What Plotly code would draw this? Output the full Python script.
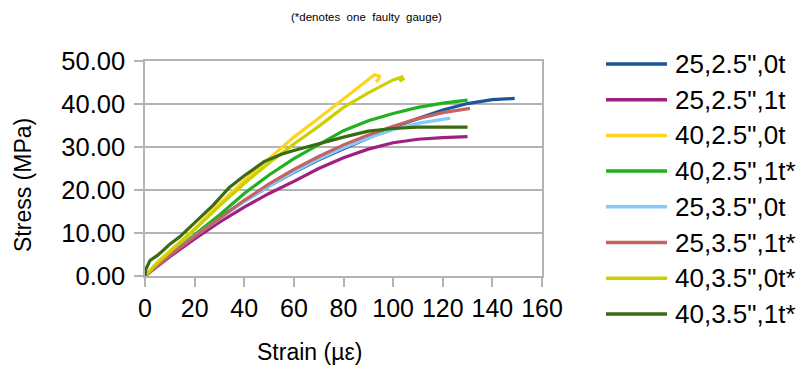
import plotly.graph_objects as go

names = ['25,2.5",0t', '25,2.5",1t', '40,2.5",0t', '40,2.5",1t*',
         '25,3.5",0t', '25,3.5",1t*', '40,3.5",0t*', '40,3.5",1t*']
colors = ["#1c5596", "#a0207f", "#ffd320", "#20b020",
          "#83caff", "#c46462", "#cdd000", "#3a6b12"]

x_25_25_0 = [0, 5, 10, 20, 30, 40, 50, 60, 70, 80, 90, 100, 110, 120, 130, 140, 149]
y_25_25_0 = [0, 2.6, 5.0, 9.3, 13.6, 17.4, 20.9, 24.1, 27.0, 29.6, 32.1, 34.6, 36.6, 38.6, 40.1, 41.0, 41.3]

x_25_25_1 = [0, 5, 10, 20, 30, 40, 50, 60, 70, 80, 90, 100, 110, 120, 130]
y_25_25_1 = [0, 2.3, 4.5, 8.6, 12.5, 16.0, 19.2, 22.0, 25.0, 27.5, 29.5, 31.0, 31.8, 32.2, 32.4]

x_40_25_0 = [0, 5, 10, 20, 30, 40, 50, 60, 70, 80, 88, 92.5, 94.5, 94, 93]
y_40_25_0 = [0, 3.2, 5.8, 11.0, 16.8, 22.2, 27.3, 32.3, 36.7, 41.2, 44.8, 46.8, 46.5, 45.6, 45.2]

x_40_25_1 = [0, 5, 10, 20, 30, 40, 50, 60, 70, 80, 90, 100, 110, 120, 130]
y_40_25_1 = [0, 2.6, 5.0, 9.6, 14.2, 19.2, 23.5, 27.3, 30.6, 33.8, 36.1, 37.8, 39.2, 40.2, 40.9]

x_25_35_0 = [0, 5, 10, 20, 30, 40, 50, 60, 70, 80, 90, 100, 110, 123]
y_25_35_0 = [0, 2.5, 4.9, 9.3, 13.4, 17.3, 20.9, 24.2, 27.2, 29.8, 32.1, 34.0, 35.5, 36.7]

x_25_35_1 = [0, 5, 10, 20, 30, 40, 50, 60, 70, 80, 90, 100, 110, 120, 131]
y_25_35_1 = [0, 2.5, 4.8, 9.2, 13.5, 17.6, 21.4, 24.8, 27.8, 30.5, 32.8, 34.8, 36.6, 38.0, 39.0]

x_40_35_0 = [0, 5, 10, 20, 30, 40, 50, 60, 70, 80, 90, 100, 103.5, 104, 102.5]
y_40_35_0 = [0, 3.0, 5.6, 10.8, 16.3, 21.5, 26.3, 30.7, 34.8, 39.2, 42.6, 45.6, 46.3, 45.8, 45.3]

x_40_35_1 = [0, 0.3, 2, 5, 7.4, 10, 14, 20, 27.5, 34, 40, 48, 55, 60, 70, 80, 90, 100, 110, 120, 130]
y_40_35_1 = [0, 1.5, 3.6, 4.8, 6.0, 7.4, 9.1, 12.5, 16.5, 20.6, 23.3, 26.6, 28.3, 29.2, 30.8, 32.3, 33.7, 34.3, 34.6, 34.6, 34.6]

xs = [x_25_25_0, x_25_25_1, x_40_25_0, x_40_25_1, x_25_35_0, x_25_35_1, x_40_35_0, x_40_35_1]
ys = [y_25_25_0, y_25_25_1, y_40_25_0, y_40_25_1, y_25_35_0, y_25_35_1, y_40_35_0, y_40_35_1]

x_ticks = [0, 20, 40, 60, 80, 100, 120, 140, 160]
y_ticks = [0, 10, 20, 30, 40, 50]
y_tick_labels = ["0.00", "10.00", "20.00", "30.00", "40.00", "50.00"]

FONT = "Liberation Sans, Arial, sans-serif"
GRID = "#b3b3b3"

fig = go.Figure()
for n, c, x, y in zip(names, colors, xs, ys):
    fig.add_trace(go.Scatter(x=x, y=y, mode="lines", name=n,
                             line=dict(color=c, width=3.2), showlegend=False))

L, R, T, B = 145, 258, 61, 90
W, H = 800, 366
pw, ph = W - L - R, H - T - B

def px_to_paper_x(px):
    return (px - L) / pw

def py_to_paper_y(py):
    return (H - B - py) / ph

shapes = []
annotations = []
for i, (n, c) in enumerate(zip(names, colors)):
    py = 64 + 35.7 * i
    yy = py_to_paper_y(py)
    shapes.append(dict(type="line", xref="paper", yref="paper",
                       x0=px_to_paper_x(606), x1=px_to_paper_x(667), y0=yy, y1=yy,
                       line=dict(color=c, width=3.5)))
    annotations.append(dict(text=n, xref="paper", yref="paper",
                            x=px_to_paper_x(673), y=yy, xanchor="left", yanchor="middle",
                            showarrow=False, font=dict(size=26, color="black", family=FONT)))

annotations.append(dict(text="(*denotes  one  faulty  gauge)", xref="paper", yref="paper",
                        x=px_to_paper_x(366), y=py_to_paper_y(17), xanchor="center", yanchor="middle",
                        showarrow=False, font=dict(size=11.5, color="black", family=FONT)))
annotations.append(dict(text="Strain (\u00b5\u03b5)", xref="paper", yref="paper",
                        x=px_to_paper_x(309), y=py_to_paper_y(352), xanchor="center", yanchor="middle",
                        showarrow=False, font=dict(size=23, color="black", family=FONT)))
annotations.append(dict(text="Stress (MPa)", xref="paper", yref="paper",
                        x=px_to_paper_x(23), y=py_to_paper_y(185), xanchor="center", yanchor="middle",
                        textangle=-90,
                        showarrow=False, font=dict(size=23, color="black", family=FONT)))

fig.update_layout(
    width=W, height=H,
    margin=dict(l=L, r=R, t=T, b=B),
    paper_bgcolor="white", plot_bgcolor="white",
    showlegend=False,
    shapes=shapes, annotations=annotations,
    font=dict(family=FONT, color="black"),
)
fig.update_xaxes(range=[0, 160], tickvals=x_ticks, showgrid=False, zeroline=False,
                 showline=True, linecolor=GRID, linewidth=1.5, mirror=True,
                 ticks="outside", ticklen=9, tickcolor=GRID, tickwidth=1.5, automargin=False,
                 tickfont=dict(size=25, color="black", family=FONT))
fig.update_yaxes(range=[0, 50], tickvals=y_ticks, ticktext=y_tick_labels,
                 showgrid=True, gridcolor=GRID, gridwidth=1.5, zeroline=False,
                 showline=True, linecolor=GRID, linewidth=1.5, mirror=True,
                 ticks="outside", ticklen=9, tickcolor=GRID, tickwidth=1.5, automargin=False,
                 ticklabelstandoff=4,
                 tickfont=dict(size=25.5, color="black", family=FONT))

fig.write_html("out.html", config={"displayModeBar": False},
               post_script="document.body.style.margin='0';document.body.style.overflow='hidden';")
